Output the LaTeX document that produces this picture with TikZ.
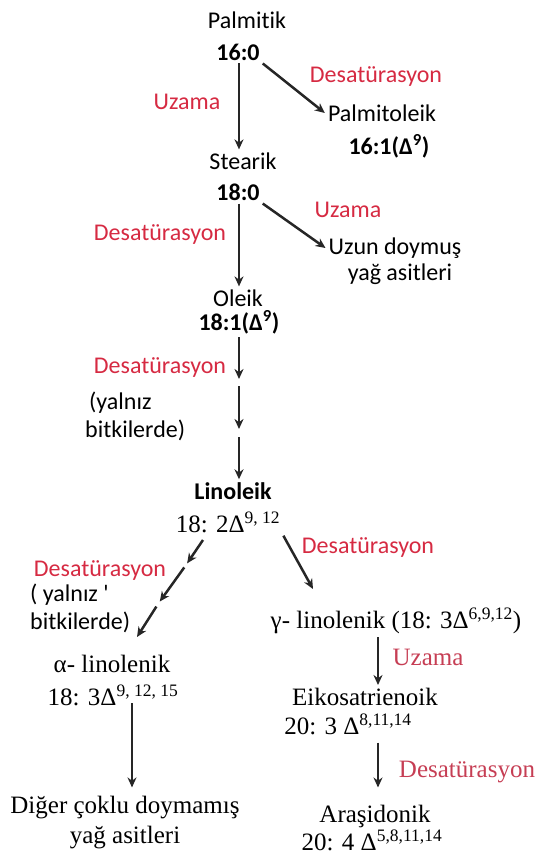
\documentclass[tikz,border=0pt]{standalone}
\usepackage{fontspec}
\setmainfont{Liberation Serif}
\newfontfamily\calfont[Ligatures=NoCommon]{Carlito}
\usetikzlibrary{arrows.meta, calc, positioning}
\definecolor{desred}{RGB}{214, 42, 66}
\definecolor{pinkred}{RGB}{198, 62, 84}

\begin{document}
\begin{tikzpicture}[x=1pt, y=-1pt,
  sname/.style={font=\calfont\fontsize{24}{28}\selectfont, inner sep=3pt},
  snum/.style={font=\calfont\bfseries\fontsize{24}{28}\selectfont, inner sep=3pt},
  slbl/.style={font=\calfont\fontsize{24}{28}\selectfont, text=desred, inner sep=2pt},
  tname/.style={font=\fontsize{25}{30}\selectfont, inner sep=3pt, align=center},
  tlbl/.style={font=\fontsize{25}{30}\selectfont, text=pinkred, inner sep=2pt},
  arr/.style={-{Stealth[length=10pt, width=9pt]}, line width=2.5pt, color=black!85}
]
  \useasboundingbox (0,0) rectangle (539,855);

  % upper part
  \node[sname] (palm) at (247,20) {Palmitik};
  \node[snum] (p160) at (238,52) {16:0};
  \node[sname] (palmol) at (382,113) {Palmitoleik};
  \node[snum] (p161) at (389,146) {16:1(Δ\textsuperscript{9})};
  \node[sname] (stear) at (243,161) {Stearik};
  \node[snum] (s180) at (238,192) {18:0};
  \node[sname] (uzun1) at (395,248) {Uzun doymuş};
  \node[sname] (uzun2) at (400,274) {yağ asitleri};
  \node[sname] (oleik) at (238,298) {Oleik};
  \node[snum] (o181) at (239,322) {18:1(Δ\textsuperscript{9})};
  \node[sname, align=left, anchor=west] (bitki1) at (82,416) {\,(yalnız\\bitkilerde)};

  \node[slbl] (uza1) at (187,102) {Uzama};
  \node[slbl] (des1) at (376,76) {Desatürasyon};
  \node[slbl] (uza2) at (348,210) {Uzama};
  \node[slbl] (des2) at (160,234) {Desatürasyon};
  \node[slbl] (des3) at (160,367) {Desatürasyon};

  % lower part
  \node[snum] (lino) at (233,491) {Linoleik};
  \node[tname] (l182) at (228,522) {18: 2Δ\textsuperscript{9, 12}};
  \node[slbl] (des4) at (368,547) {Desatürasyon};
  \node[slbl] (des5) at (100,570) {Desatürasyon};
  \node[sname, align=left, anchor=west, inner sep=0pt] (bitki2) at (30,608) {( yalnız '\\bitkilerde)};
  \node[tname] (gamma) at (396,621) {γ- linolenik (18: 3Δ\textsuperscript{6,9,12})};
  \node[tname] (alpha) at (112,664) {α- linolenik};
  \node[tname] (a183) at (113,695) {18: 3Δ\textsuperscript{9, 12, 15}};
  \node[tname] (diger) at (125,823) {Diğer çoklu doymamış\\yağ asitleri};
  \node[tlbl] (uza3) at (428,657) {Uzama};
  \node[tname] (eiko) at (365,697) {Eikosatrienoik};
  \node[tname] (e203) at (348,724) {20: 3 Δ\textsuperscript{8,11,14}};
  \node[tlbl] (des6) at (467,772) {Desatürasyon};
  \node[tname] (ara) at (375,816) {Araşidonik};
  \node[tname, inner sep=1pt] (a204) at (372,840) {20: 4 Δ\textsuperscript{5,8,11,14}};

  % rails and bends
  \coordinate (rail) at (239,0);
  \coordinate (k1) at (239,382);
  \coordinate (k2) at (239,433);
  \coordinate (m0) at (203,540);
  \coordinate (m1) at (186,565);
  \coordinate (m2) at (158,604);
  \coordinate (m3) at (137,637);
  \coordinate (g1) at (313,589);
  \coordinate (astart) at (132,703);
  \coordinate (rrail) at (378,0);

  \draw[arr] (rail |- p160.south) -- (rail |- stear.north);
  \draw[arr] (p160.south east) -- (palmol.west);
  \draw[arr] (rail |- s180.south) -- (rail |- oleik.north);
  \draw[arr] (s180.south east) -- (uzun1.west);
  \draw[arr, shorten >=3pt] (rail |- o181.south) -- (k1);
  \draw[arr, shorten <=4pt, shorten >=4pt] (k1) -- (k2);
  \draw[arr, shorten <=4pt] (k2) -- (rail |- lino.north);

  \draw[arr, shorten >=2pt] (m0) -- (m1);
  \draw[arr, shorten <=3pt, shorten >=3pt] (m1) -- (m2);
  \draw[arr, shorten <=3pt] (m2) -- (m3);
  \draw[arr] (l182.south east) -- (g1);
  \draw[arr, shorten >=6pt] (astart) -- (astart |- diger.north);
  \draw[arr] (rrail |- gamma.south) -- (rrail |- eiko.north);
  \draw[arr, shorten <=5pt, shorten >=14pt] (rrail |- e203.south) -- (rrail |- ara.north);
\end{tikzpicture}
\end{document}
